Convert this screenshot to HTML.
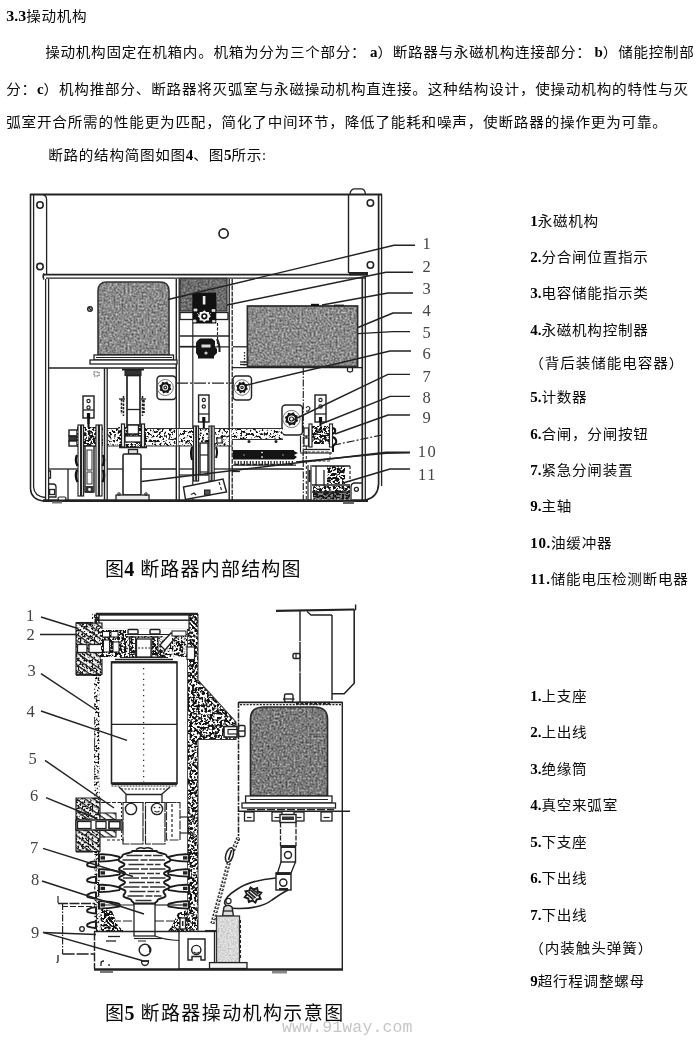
<!DOCTYPE html>
<html lang="zh-CN">
<head>
<meta charset="utf-8">
<title>3.3操动机构</title>
<style>
html,body{margin:0;padding:0;background:#fff;}
body{width:700px;height:1040px;position:relative;overflow:hidden;
 font-family:"Liberation Serif","Noto Sans CJK SC",sans-serif;color:#0a0a0a;font-weight:400;}
.t{position:absolute;white-space:nowrap;font-size:14.6px;line-height:20px;height:20px;letter-spacing:0.7px;transform:scaleY(0.94);transform-origin:0 55%;margin-left:-0.8px;}
.t b{font-weight:700;letter-spacing:0;font-size:15px;color:#000;-webkit-text-stroke:0;}
.cap{position:absolute;white-space:nowrap;font-size:19px;line-height:24px;height:24px;letter-spacing:1.2px;}
.cap b{letter-spacing:0;font-size:20px;margin-left:-1px;font-weight:700;}
.wm{position:absolute;left:282px;top:1018.5px;font-family:"Liberation Mono",monospace;font-size:16.5px;line-height:18px;color:#c6c6c6;letter-spacing:0.15px;white-space:nowrap;font-weight:400;}
svg{position:absolute;left:0;top:0;}
body{filter:grayscale(1);}
</style>
</head>
<body>
<!--TEXT-->
<div class="t" style="left:7px;top:6px;"><b style="font-size:16px">3.3</b>操动机构</div>
<div class="t" style="left:46px;top:42px;">操动机构固定在机箱内。机箱为分为三个部分：<b style="margin-left:3.5px">a</b>）断路器与永磁机构连接部分：<b style="margin-left:3px">b</b>）储能控制部</div>
<div class="t" style="left:7px;top:79px;letter-spacing:0.77px;">分：<b>c</b>）机构推部分、断路器将灭弧室与永磁操动机构直连接。这种结构设计，使操动机构的特性与灭</div>
<div class="t" style="left:7px;top:111.5px;letter-spacing:0.79px;">弧室开合所需的性能更为匹配，简化了中间环节，降低了能耗和噪声，使断路器的操作更为可靠。</div>
<div class="t" style="left:49px;top:145px;">断路的结构简图如图<b>4</b>、图<b>5</b>所示:</div>

<div class="t" style="left:531px;top:211px;"><b>1</b>永磁机构</div>
<div class="t" style="left:531px;top:247px;"><b>2.</b>分合闸位置指示</div>
<div class="t" style="left:531px;top:283px;"><b>3.</b>电容储能指示类</div>
<div class="t" style="left:531px;top:320px;"><b>4.</b>永磁机构控制器</div>
<div class="t" style="left:530px;top:353px;letter-spacing:0.9px">（背后装储能电容器）</div>
<div class="t" style="left:531px;top:387px;"><b>5.</b>计数器</div>
<div class="t" style="left:531px;top:424px;"><b>6.</b>合闸，分闸按钮</div>
<div class="t" style="left:531px;top:460px;"><b>7.</b>紧急分闸装置</div>
<div class="t" style="left:531px;top:496px;"><b>9.</b>主轴</div>
<div class="t" style="left:531px;top:533px;"><b style="letter-spacing:.7px">10.</b>油缓冲器</div>
<div class="t" style="left:531px;top:569px;"><b style="letter-spacing:.9px">11.</b>储能电压检测断电器</div>

<div class="t" style="left:531px;top:686px;"><b>1.</b>上支座</div>
<div class="t" style="left:531px;top:722px;"><b>2.</b>上出线</div>
<div class="t" style="left:531px;top:759px;"><b>3.</b>绝缘筒</div>
<div class="t" style="left:531px;top:795px;"><b>4.</b>真空来弧室</div>
<div class="t" style="left:531px;top:832px;"><b>5.</b>下支座</div>
<div class="t" style="left:531px;top:868px;"><b>6.</b>下出线</div>
<div class="t" style="left:531px;top:905px;"><b>7.</b>下出线</div>
<div class="t" style="left:530px;top:937.5px;letter-spacing:0.9px">（内装触头弹簧）</div>
<div class="t" style="left:531px;top:971px;"><b>9</b>超行程调整螺母</div>

<div class="cap" style="left:105px;top:557px;">图<b>4</b> 断路器内部结构图</div>
<div class="cap" style="left:105px;top:1001px;letter-spacing:1.4px">图<b>5</b> 断路器操动机构示意图</div>
<div class="wm">www.91way.com</div>
<!--/TEXT-->
<!--FIG1-->
<svg width="700" height="1040" viewBox="0 0 700 1040" font-family="'Liberation Serif',serif">
<defs>
<filter id="fA" x="0" y="0" width="100%" height="100%" color-interpolation-filters="sRGB"><feTurbulence type="fractalNoise" baseFrequency="0.5" numOctaves="3" seed="3"/><feColorMatrix type="matrix" values="0.75 0 0 0 0.168  0.75 0 0 0 0.168  0.75 0 0 0 0.168  0 0 0 0 1"/><feComposite operator="in" in2="SourceGraphic"/></filter>
<filter id="fB" x="0" y="0" width="100%" height="100%" color-interpolation-filters="sRGB"><feTurbulence type="fractalNoise" baseFrequency="0.5" numOctaves="3" seed="8"/><feColorMatrix type="matrix" values="0.55 0 0 0 0.150  0.55 0 0 0 0.150  0.55 0 0 0 0.150  0 0 0 0 1"/><feComposite operator="in" in2="SourceGraphic"/></filter>
<filter id="fL" x="0" y="0" width="100%" height="100%" color-interpolation-filters="sRGB"><feTurbulence type="fractalNoise" baseFrequency="0.6" numOctaves="2" seed="4"/><feColorMatrix type="matrix" values="0.35 0 0 0 0.668  0.35 0 0 0 0.668  0.35 0 0 0 0.668  0 0 0 0 1"/><feComposite operator="in" in2="SourceGraphic"/></filter>
<filter id="sp" x="0" y="0" width="100%" height="100%" color-interpolation-filters="sRGB"><feTurbulence type="fractalNoise" baseFrequency="0.42" numOctaves="2" seed="7"/><feColorMatrix type="matrix" values="9 0 0 0 -3.370  9 0 0 0 -3.370  9 0 0 0 -3.370  0 0 0 0 1"/><feComponentTransfer><feFuncR type="linear" slope="0.920" intercept="0.08"/><feFuncG type="linear" slope="0.920" intercept="0.08"/><feFuncB type="linear" slope="0.920" intercept="0.08"/></feComponentTransfer><feComposite operator="in" in2="SourceGraphic"/></filter>
<filter id="sp2" x="0" y="0" width="100%" height="100%" color-interpolation-filters="sRGB"><feTurbulence type="fractalNoise" baseFrequency="0.45" numOctaves="2" seed="11"/><feColorMatrix type="matrix" values="9 0 0 0 -4.180  9 0 0 0 -4.180  9 0 0 0 -4.180  0 0 0 0 1"/><feComponentTransfer><feFuncR type="linear" slope="0.920" intercept="0.08"/><feFuncG type="linear" slope="0.920" intercept="0.08"/><feFuncB type="linear" slope="0.920" intercept="0.08"/></feComponentTransfer><feComposite operator="in" in2="SourceGraphic"/></filter>
<filter id="sq" x="0" y="0" width="100%" height="100%" color-interpolation-filters="sRGB"><feTurbulence type="fractalNoise" baseFrequency="0.4" numOctaves="2" seed="19"/><feColorMatrix type="matrix" values="9 0 0 0 -4.045  9 0 0 0 -4.045  9 0 0 0 -4.045  0 0 0 0 1"/><feComponentTransfer><feFuncR type="linear" slope="0.920" intercept="0.08"/><feFuncG type="linear" slope="0.920" intercept="0.08"/><feFuncB type="linear" slope="0.920" intercept="0.08"/></feComponentTransfer><feComposite operator="in" in2="SourceGraphic"/></filter>
<filter id="sq2" x="0" y="0" width="100%" height="100%" color-interpolation-filters="sRGB"><feTurbulence type="fractalNoise" baseFrequency="0.45" numOctaves="2" seed="23"/><feColorMatrix type="matrix" values="9 0 0 0 -4.315  9 0 0 0 -4.315  9 0 0 0 -4.315  0 0 0 0 1"/><feComponentTransfer><feFuncR type="linear" slope="0.920" intercept="0.08"/><feFuncG type="linear" slope="0.920" intercept="0.08"/><feFuncB type="linear" slope="0.920" intercept="0.08"/></feComponentTransfer><feComposite operator="in" in2="SourceGraphic"/></filter>
</defs>
<line x1="30" y1="194.5" x2="382" y2="194.5" stroke="#222" stroke-width="1.82"/>
<path d="M30.5 194 V489 Q31 499 43 501" fill="none" stroke="#222" stroke-width="1.56"/>
<path d="M33.6 195 V487 Q34 496 45 497.5" fill="none" stroke="#222" stroke-width="1.3"/>
<path d="M43.5 195 Q46.6 195.5 46.6 200 V275" fill="none" stroke="#222" stroke-width="1.3"/>
<circle cx="40" cy="205" r="3.2" fill="none" stroke="#222" stroke-width="1.56"/>
<circle cx="40" cy="266.6" r="3.2" fill="none" stroke="#222" stroke-width="1.56"/>
<line x1="348.5" y1="194" x2="348.5" y2="273" stroke="#222" stroke-width="1.43"/>
<path d="M350 194 Q350.5 188.8 355 188.8 H361 Q365 188.8 365.4 194" fill="none" stroke="#222" stroke-width="1.3"/>
<circle cx="370.4" cy="203" r="3.2" fill="none" stroke="#222" stroke-width="1.56"/>
<circle cx="370.4" cy="265" r="3.2" fill="none" stroke="#222" stroke-width="1.56"/>
<path d="M378.6 194 V484 Q378 497 366 500" fill="none" stroke="#222" stroke-width="1.69"/>
<path d="M381.6 194 V486" fill="none" stroke="#222" stroke-width="1.3"/>
<circle cx="223.6" cy="233.5" r="4.6" fill="none" stroke="#222" stroke-width="1.69"/>
<line x1="43" y1="274.6" x2="368" y2="274.6" stroke="#222" stroke-width="1.95"/>
<line x1="46" y1="278.2" x2="349" y2="278.2" stroke="#222" stroke-width="1.3"/>
<path d="M44 273.5 Q42.3 276.5 44 279.5" fill="none" stroke="#222" stroke-width="1.56"/>
<rect x="349" y="272" width="19" height="3.5" fill="#222"/>
<line x1="349" y1="278" x2="366" y2="278" stroke="#222" stroke-width="1.3"/>
<line x1="45.6" y1="279" x2="45.6" y2="500" stroke="#222" stroke-width="1.3"/>
<line x1="48.6" y1="279" x2="48.6" y2="500" stroke="#222" stroke-width="1.3"/>
<line x1="362.3" y1="277" x2="362.3" y2="500" stroke="#222" stroke-width="1.69"/>
<line x1="365.3" y1="277" x2="365.3" y2="500" stroke="#222" stroke-width="1.3"/>
<line x1="43" y1="500.6" x2="368" y2="500.6" stroke="#222" stroke-width="2.6"/>
<rect x="343" y="501.5" width="11" height="2.5" fill="#666"/>
<rect x="52" y="501.5" width="10" height="2" fill="#777"/>
<line x1="176.3" y1="279" x2="176.3" y2="500" stroke="#222" stroke-width="1.43"/>
<line x1="179.2" y1="279" x2="179.2" y2="500" stroke="#222" stroke-width="1.3"/>
<line x1="229.2" y1="279" x2="229.2" y2="500" stroke="#222" stroke-width="1.43"/>
<line x1="232.2" y1="279" x2="232.2" y2="500" stroke="#222" stroke-width="1.3" stroke-dasharray="5 1.2"/>
<path d="M98 355 V291 Q98 282 107 282 H160 Q169 282 169 291 V355 Z" fill="#808080" filter="url(#fA)"/>
<path d="M98 355 V291 Q98 282 107 282 H160 Q169 282 169 291 V355 Z" fill="none" stroke="#333" stroke-width="1.56"/>
<rect x="94" y="355" width="79.5" height="5" fill="#fff" stroke="#222" stroke-width="1.3"/>
<rect x="90" y="360" width="87" height="4" fill="#fff" stroke="#222" stroke-width="1.3"/>
<line x1="96" y1="357.5" x2="172" y2="357.5" stroke="#222" stroke-width="1.04"/>
<line x1="48.6" y1="368" x2="176" y2="368" stroke="#222" stroke-width="1.43"/>
<circle cx="90" cy="309" r="2.3" fill="none" stroke="#222" stroke-width="1.43"/>
<line x1="88.5" y1="307.5" x2="91.5" y2="310.5" stroke="#222" stroke-width="1.17"/>
<rect x="180" y="278.5" width="47" height="32.5" fill="#808080" filter="url(#fB)"/>
<rect x="180" y="278.5" width="47" height="32.5" fill="none" stroke="#333" stroke-width="1.3"/>
<rect x="180" y="312.5" width="48" height="7" fill="#fff" stroke="#222" stroke-width="1.3"/>
<rect x="192.3" y="292.7" width="24" height="30.8" fill="#111"/>
<rect x="202.8" y="296" width="2.6" height="8.5" fill="#eee"/>
<path d="M210.9 316.3 L208.92 318.06 L208.97 320.59 L206.21 320.55 L204.3 322.37 L202.39 320.55 L199.63 320.59 L199.68 318.06 L197.7 316.3 L199.68 314.54 L199.63 312.01 L202.39 312.05 L204.3 310.23 L206.21 312.05 L208.97 312.01 L208.92 314.54 Z" fill="#f4f4f4"/>
<circle cx="204.3" cy="316.3" r="2.3" fill="#fff" stroke="#111" stroke-width="1.69"/>
<path d="M194 309 h3 v2 h-3z M212 309.5 h3 v2 h-3z M193.5 320 h2.5 v2 h-2.5z M212.5 320.5 h2.5 v1.5 h-2.5z M197 313 l2 2 M211 313 l-2 2" fill="#ddd" stroke="#ddd" stroke-width="0.78"/>
<line x1="180" y1="336" x2="229" y2="336" stroke="#222" stroke-width="1.3"/>
<line x1="180" y1="346.5" x2="196" y2="346.5" stroke="#222" stroke-width="1.3"/>
<line x1="180" y1="346.8" x2="229" y2="346.8" stroke="#222" stroke-width="1.17"/>
<line x1="192.8" y1="323" x2="192.8" y2="500" stroke="#222" stroke-width="1.17"/>
<line x1="217.5" y1="323" x2="217.5" y2="346" stroke="#222" stroke-width="1.17" stroke-dasharray="3 1.5"/>
<path d="M197 341 L200 338.5 H212 L215 341 V347 L217 349 V353 L214 356 V358.5 H198 V356 L196 353 V343 Z" fill="#151515"/>
<rect x="201.5" y="344.5" width="9" height="3" fill="#ddd"/>
<circle cx="206" cy="353" r="1.6" fill="#ccc"/>
<path d="M217 339 Q220 345 219.5 352" fill="none" stroke="#222" stroke-width="2.08"/>
<rect x="247.4" y="306" width="110.2" height="60.5" fill="#808080" filter="url(#fA)"/>
<rect x="247.4" y="306" width="110.2" height="60.5" fill="none" stroke="#2a2a2a" stroke-width="1.69"/>
<rect x="311" y="303.8" width="8" height="2.2" fill="#111"/>
<rect x="334" y="304.6" width="10" height="1.4" fill="#222"/>
<line x1="232" y1="367.6" x2="362" y2="367.6" stroke="#222" stroke-width="1.43"/>
<path d="M347.5 368 V371 Q350 373 352.5 371 V368" fill="none" stroke="#222" stroke-width="1.3"/>
<line x1="233" y1="346.8" x2="247" y2="346.8" stroke="#222" stroke-width="1.3"/>
<line x1="244.5" y1="352" x2="244.5" y2="366" stroke="#222" stroke-width="1.3" stroke-dasharray="1.5 1.5"/>
<line x1="240" y1="362" x2="247" y2="362" stroke="#222" stroke-width="1.3"/>
<line x1="240" y1="364.5" x2="247" y2="364.5" stroke="#222" stroke-width="1.3"/>
<rect x="157" y="376" width="19" height="23.5" fill="#fff" stroke="#222" stroke-width="1.43" rx="3.5"/>
<path d="M171.41 389.39 L169.15 390.69 L168.29 393.16 L165.76 392.48 L163.41 393.61 L162.11 391.35 L159.64 390.49 L160.32 387.96 L159.19 385.61 L161.45 384.31 L162.31 381.84 L164.84 382.52 L167.19 381.39 L168.49 383.65 L170.96 384.51 L170.28 387.04 Z" fill="#161616"/>
<circle cx="165.3" cy="387.5" r="2.9" fill="#fff"/>
<circle cx="165.3" cy="387.5" r="1.4" fill="none" stroke="#222" stroke-width="1.17"/>
<circle cx="165.3" cy="387.5" r="8" fill="none" stroke="#555" stroke-width="0.78"/>
<rect x="233" y="376" width="18.5" height="24" fill="#fff" stroke="#222" stroke-width="1.43" rx="3.5"/>
<path d="M247.92 389.33 L245.69 390.57 L244.89 392.98 L242.44 392.28 L240.17 393.42 L238.93 391.19 L236.52 390.39 L237.22 387.94 L236.08 385.67 L238.31 384.43 L239.11 382.02 L241.56 382.72 L243.83 381.58 L245.07 383.81 L247.48 384.61 L246.78 387.06 Z" fill="#161616"/>
<circle cx="242" cy="387.5" r="2.7" fill="#fff"/>
<circle cx="242" cy="387.5" r="1.2" fill="none" stroke="#222" stroke-width="1.17"/>
<circle cx="242" cy="387.5" r="7.8" fill="none" stroke="#555" stroke-width="0.78"/>
<rect x="282" y="405" width="20.5" height="30" fill="#fff" stroke="#222" stroke-width="1.43" rx="3.5"/>
<path d="M298.19 421.07 L295.81 422.58 L294.77 425.19 L292.02 424.58 L289.43 425.69 L287.92 423.31 L285.31 422.27 L285.92 419.52 L284.81 416.93 L287.19 415.42 L288.23 412.81 L290.98 413.42 L293.57 412.31 L295.08 414.69 L297.69 415.73 L297.08 418.48 Z" fill="#161616"/>
<circle cx="291.5" cy="419" r="3.5" fill="#fff"/>
<circle cx="291.5" cy="419" r="2" fill="none" stroke="#222" stroke-width="1.17"/>
<circle cx="291.5" cy="419" r="8.6" fill="none" stroke="#555" stroke-width="0.78"/>
<line x1="176" y1="383.2" x2="234" y2="383.2" stroke="#222" stroke-width="1.17" stroke-dasharray="12 2 2 2"/>
<line x1="303.3" y1="368" x2="303.3" y2="500" stroke="#222" stroke-width="1.17" stroke-dasharray="7 1.5 1.5 1.5"/>
<line x1="306.3" y1="436" x2="306.3" y2="500" stroke="#222" stroke-width="1.04" stroke-dasharray="3 2"/>
<rect x="107" y="428.5" width="69" height="17.5" fill="#808080" filter="url(#sp)"/>
<rect x="179" y="428.5" width="50" height="17.5" fill="#808080" filter="url(#sp)"/>
<rect x="232" y="428.5" width="51" height="10.5" fill="#808080" filter="url(#sp)"/>
<line x1="107" y1="428.5" x2="283" y2="428.5" stroke="#333" stroke-width="1.17"/>
<line x1="107" y1="446" x2="232" y2="446" stroke="#333" stroke-width="1.17"/>
<line x1="232" y1="439.5" x2="283" y2="439.5" stroke="#333" stroke-width="1.17"/>
<circle cx="249" cy="441.5" r="1.5" fill="#222"/>
<circle cx="276" cy="441.5" r="1.5" fill="#222"/>
<line x1="104.5" y1="368" x2="104.5" y2="500" stroke="#222" stroke-width="1.43"/>
<line x1="107.2" y1="368" x2="107.2" y2="500" stroke="#222" stroke-width="1.3"/>
<rect x="125" y="370" width="16" height="5.5" fill="#333" stroke="#222" stroke-width="1.04"/>
<rect x="122" y="368.5" width="22" height="2" fill="#222"/>
<rect x="127" y="375.5" width="13" height="57.5" fill="#fff" stroke="#222" stroke-width="1.69"/>
<line x1="127" y1="409.5" x2="140" y2="409.5" stroke="#222" stroke-width="1.3"/>
<line x1="127" y1="425" x2="140" y2="425" stroke="#222" stroke-width="1.3"/>
<path d="M121.5 399 V414 M123.5 396 V416 M142.5 396 V416 M144 400 V413" fill="none" stroke="#222" stroke-width="1.56" stroke-dasharray="2.5 1.2"/>
<line x1="119" y1="399" x2="125" y2="399" stroke="#222" stroke-width="1.3"/>
<line x1="141" y1="399" x2="146" y2="399" stroke="#222" stroke-width="1.3"/>
<rect x="118" y="427" width="29" height="20" fill="#808080" filter="url(#sp2)"/>
<rect x="121.5" y="424" width="3" height="23" fill="#fff" stroke="#222" stroke-width="1.3"/>
<rect x="141.5" y="424" width="3" height="23" fill="#fff" stroke="#222" stroke-width="1.3"/>
<rect x="127.5" y="425" width="11" height="9" fill="#fff" stroke="#222" stroke-width="1.43"/>
<rect x="125" y="436" width="16" height="6" fill="#fff" stroke="#222" stroke-width="1.3"/>
<line x1="119" y1="447.5" x2="147" y2="447.5" stroke="#222" stroke-width="1.56"/>
<rect x="128.5" y="449.5" width="9" height="4.5" fill="#ddd" stroke="#222" stroke-width="1.3"/>
<rect x="123" y="454" width="18" height="41" fill="#fff" stroke="#222" stroke-width="1.56" rx="1.5"/>
<rect x="116" y="495" width="33" height="5" fill="#eee" stroke="#222" stroke-width="1.3"/>
<circle cx="119" cy="494" r="1.2" fill="none" stroke="#222" stroke-width="1.04"/>
<circle cx="146" cy="494" r="1.2" fill="none" stroke="#222" stroke-width="1.04"/>
<rect x="83" y="396" width="11" height="22" fill="#fff" stroke="#222" stroke-width="1.43"/>
<circle cx="88.5" cy="401" r="1.6" fill="none" stroke="#222" stroke-width="1.17"/>
<circle cx="88.5" cy="407.5" r="1.6" fill="none" stroke="#222" stroke-width="1.17"/>
<line x1="83" y1="410" x2="94" y2="410" stroke="#222" stroke-width="1.3"/>
<rect x="86.9" y="413" width="3.2" height="5" fill="#111"/>
<line x1="88.5" y1="418" x2="88.5" y2="424" stroke="#111" stroke-width="2.08"/>
<line x1="88.5" y1="418" x2="88.5" y2="428" stroke="#111" stroke-width="2.08"/>
<rect x="69" y="430" width="8" height="6" fill="#fff" stroke="#222" stroke-width="1.43"/>
<rect x="69" y="436" width="8" height="5" fill="#333" stroke="#222" stroke-width="1.3"/>
<rect x="69" y="441" width="8" height="5" fill="#fff" stroke="#222" stroke-width="1.43"/>
<rect x="77" y="427" width="26" height="20" fill="#808080" filter="url(#sp2)"/>
<rect x="78" y="425" width="2.6" height="71" fill="#fff" stroke="#222" stroke-width="1.17"/>
<rect x="81.6" y="425" width="2" height="71" fill="#fff" stroke="#222" stroke-width="1.17"/>
<rect x="96" y="425" width="2.4" height="71" fill="#fff" stroke="#222" stroke-width="1.17"/>
<rect x="99.4" y="425" width="2.6" height="71" fill="#fff" stroke="#222" stroke-width="1.17"/>
<rect x="85" y="446" width="9" height="46" fill="#fff" stroke="#222" stroke-width="1.43"/>
<rect x="87" y="450" width="5" height="20" fill="#fff" stroke="#333" stroke-width="1.04"/>
<rect x="87" y="472" width="5" height="12" fill="#fff" stroke="#333" stroke-width="1.04"/>
<rect x="85.5" y="486" width="8" height="7" fill="#333"/>
<circle cx="89.5" cy="489.5" r="1.4" fill="#fff"/>
<path d="M77 455 Q74.5 460 77.5 466 M77 470 Q74.5 476 77.5 482 M103 455 Q105.5 460 102.5 466 M103 470 Q105.5 476 102.5 482" fill="none" stroke="#111" stroke-width="2.34"/>
<line x1="48.6" y1="469" x2="78" y2="469" stroke="#222" stroke-width="1.3"/>
<line x1="107" y1="469" x2="123" y2="469" stroke="#222" stroke-width="1.3"/>
<line x1="141" y1="469" x2="176" y2="469" stroke="#222" stroke-width="1.3"/>
<line x1="68" y1="469" x2="68" y2="500" stroke="#222" stroke-width="1.3"/>
<path d="M48.6 471 H50.5 V478 H49 M48.6 484 H53 Q56 484 56 487 V497 H48.6" fill="none" stroke="#222" stroke-width="1.3"/>
<rect x="49.6" y="489.5" width="5" height="5" fill="#fff" stroke="#222" stroke-width="1.3"/>
<rect x="58" y="497" width="8" height="3" fill="#fff" stroke="#222" stroke-width="1.17" rx="1.4"/>
<rect x="94" y="372" width="5" height="4" fill="none" stroke="#444" stroke-width="1.04" stroke-dasharray="1.5 1"/>
<rect x="198.6" y="395" width="10.4" height="27" fill="#fff" stroke="#222" stroke-width="1.43"/>
<circle cx="203.8" cy="400" r="1.6" fill="none" stroke="#222" stroke-width="1.17"/>
<circle cx="203.8" cy="406.5" r="1.6" fill="none" stroke="#222" stroke-width="1.17"/>
<line x1="198.6" y1="414" x2="209" y2="414" stroke="#222" stroke-width="1.3"/>
<rect x="202.2" y="417" width="3.2" height="5" fill="#111"/>
<line x1="203.8" y1="422" x2="203.8" y2="428" stroke="#111" stroke-width="2.08"/>
<rect x="193.6" y="426" width="2.2" height="55" fill="#fff" stroke="#222" stroke-width="1.17"/>
<rect x="196.6" y="426" width="2" height="55" fill="#fff" stroke="#222" stroke-width="1.17"/>
<rect x="209" y="426" width="2.2" height="55" fill="#fff" stroke="#222" stroke-width="1.17"/>
<rect x="212" y="426" width="2.2" height="55" fill="#fff" stroke="#222" stroke-width="1.17"/>
<rect x="200" y="443" width="8" height="32" fill="#fff" stroke="#222" stroke-width="1.43"/>
<line x1="200" y1="455" x2="208" y2="455" stroke="#222" stroke-width="1.17"/>
<line x1="200" y1="472" x2="208" y2="472" stroke="#222" stroke-width="1.17"/>
<path d="M192 447 Q190 453 192 460 M216 447 Q218 452 216 458" fill="none" stroke="#111" stroke-width="2.08"/>
<line x1="179" y1="469" x2="193.6" y2="469" stroke="#222" stroke-width="1.3"/>
<line x1="214.2" y1="469" x2="233" y2="469" stroke="#222" stroke-width="1.3"/>
<line x1="179" y1="475" x2="196" y2="475" stroke="#222" stroke-width="1.17"/>
<path d="M183.5 487 L223 479 L226.5 492 L185.5 499.5 Z" fill="#fff" stroke="#222" stroke-width="1.43"/>
<rect x="204.5" y="490" width="5.5" height="5" fill="#555" stroke="#222" stroke-width="1.04"/>
<path d="M191 494.5 l3 -1.5 l2 2 M219 482 l1 3 M220.5 487 l1 3" fill="none" stroke="#222" stroke-width="1.17"/>
<rect x="217" y="438" width="5" height="5" fill="#fff" stroke="#222" stroke-width="1.17"/>
<rect x="233" y="450" width="61" height="9.5" fill="#141414"/>
<path d="M294 451 l4 2 l-4 2 l3 2 l-3 2.5 Z" fill="#141414"/>
<circle cx="262" cy="452.5" r="0.8" fill="#ddd"/>
<circle cx="262" cy="457" r="0.8" fill="#ddd"/>
<circle cx="262" cy="452.5" r="0.8" fill="#ddd"/>
<circle cx="262" cy="457" r="0.8" fill="#ddd"/>
<circle cx="244" cy="455" r="0.7" fill="#bbb"/>
<circle cx="283" cy="455" r="0.7" fill="#bbb"/>
<path d="M235 461 v3.5 h3.4 v-3.5 M241 461 v3.5 h3.4 v-3.5 M247 461 v3.5 h3.4 v-3.5 M253 461 v3.5 h3.4 v-3.5 M259 461 v3.5 h3.4 v-3.5 M265 461 v3.5 h3.4 v-3.5 M271 461 v3.5 h3.4 v-3.5 M277 461 v3.5 h3.4 v-3.5 M283 461 v3.5 h3.4 v-3.5 M289 461 v3.5 h3.4 v-3.5 " fill="none" stroke="#222" stroke-width="1.3"/>
<line x1="233" y1="465.2" x2="296" y2="465.2" stroke="#222" stroke-width="1.17"/>
<line x1="232" y1="469" x2="303.3" y2="469" stroke="#222" stroke-width="1.43"/>
<line x1="232" y1="471.5" x2="240" y2="471.5" stroke="#222" stroke-width="1.3"/>
<rect x="233" y="469" width="70" height="30.5" fill="none"/>
<rect x="315" y="395" width="11" height="27" fill="#fff" stroke="#222" stroke-width="1.43"/>
<circle cx="320.5" cy="400" r="1.6" fill="none" stroke="#222" stroke-width="1.17"/>
<circle cx="320.5" cy="406.5" r="1.6" fill="none" stroke="#222" stroke-width="1.17"/>
<line x1="315" y1="414" x2="326" y2="414" stroke="#222" stroke-width="1.3"/>
<rect x="318.9" y="417" width="3.2" height="5" fill="#111"/>
<line x1="320.5" y1="422" x2="320.5" y2="428" stroke="#111" stroke-width="2.08"/>
<path d="M306 408 q2 -3 4 0 q-1 4 -4 3" fill="none" stroke="#222" stroke-width="1.17"/>
<rect x="311" y="426" width="20" height="18" fill="#808080" filter="url(#sp2)"/>
<rect x="309" y="424" width="3" height="23" fill="#fff" stroke="#222" stroke-width="1.17"/>
<rect x="329.5" y="424" width="3" height="23" fill="#fff" stroke="#222" stroke-width="1.17"/>
<rect x="304" y="428" width="4.5" height="8" fill="#fff" stroke="#222" stroke-width="1.17"/>
<rect x="304" y="438" width="4.5" height="8" fill="#fff" stroke="#222" stroke-width="1.17"/>
<path d="M333 428 q3 1 2 4 q-1 2 -2.5 1 M333 437 q4 2 3 6 l-3 3 v6" fill="none" stroke="#111" stroke-width="2.08"/>
<line x1="304" y1="449.5" x2="330" y2="449.5" stroke="#222" stroke-width="1.3"/>
<line x1="300" y1="453" x2="332" y2="453" stroke="#222" stroke-width="1.17"/>
<line x1="300.5" y1="436" x2="300.5" y2="452" stroke="#222" stroke-width="1.17"/>
<rect x="303" y="452" width="27" height="9" fill="none" stroke="#333" stroke-width="1.04" stroke-dasharray="3 1.5"/>
<line x1="308" y1="465" x2="308" y2="500" stroke="#222" stroke-width="1.17"/>
<line x1="311" y1="465" x2="311" y2="500" stroke="#222" stroke-width="1.17"/>
<rect x="312" y="465" width="38" height="34.5" fill="#fff"/>
<rect x="327" y="466" width="18" height="18" fill="#808080" filter="url(#sp2)"/>
<rect x="313" y="486" width="37" height="13.5" fill="#808080" filter="url(#sp2)"/>
<rect x="313" y="492" width="37" height="7.5" fill="#1a1a1a" opacity="0.55"/>
<line x1="312" y1="466" x2="350" y2="466" stroke="#222" stroke-width="1.3"/>
<line x1="312" y1="485" x2="350" y2="485" stroke="#222" stroke-width="1.43"/>
<line x1="312" y1="492" x2="350" y2="492" stroke="#222" stroke-width="1.56"/>
<line x1="316" y1="466" x2="316" y2="486" stroke="#222" stroke-width="1.3"/>
<line x1="324" y1="470" x2="324" y2="486" stroke="#222" stroke-width="1.3"/>
<line x1="350" y1="466" x2="350" y2="482" stroke="#222" stroke-width="1.17" stroke-dasharray="3 2"/>
<rect x="308.5" y="470" width="2" height="12" fill="#222"/>
<path d="M351 499.5 V487 Q351 483 355 483 H362" fill="#fff" stroke="#222" stroke-width="1.3"/>
<circle cx="356.4" cy="489.3" r="2" fill="none" stroke="#222" stroke-width="1.3"/>
<path d="M415 245.3 L394 245.3 L168 299.5" fill="none" stroke="#222" stroke-width="1.43" stroke-linejoin="round"/>
<path d="M413 272.3 L386 272.3 L227 305" fill="none" stroke="#222" stroke-width="1.43" stroke-linejoin="round"/>
<path d="M413 293 L388 293 L322 305" fill="none" stroke="#222" stroke-width="1.43" stroke-linejoin="round"/>
<path d="M412 313 L393 313 L358 327.5" fill="none" stroke="#222" stroke-width="1.43" stroke-linejoin="round"/>
<path d="M410 331.6 L393 331.6 L358 333.6" fill="none" stroke="#222" stroke-width="1.43" stroke-linejoin="round"/>
<path d="M411 351 L390 351 L245 385.5" fill="none" stroke="#222" stroke-width="1.43" stroke-linejoin="round"/>
<path d="M410 374.4 L388 374.4 L293 420" fill="none" stroke="#222" stroke-width="1.43" stroke-linejoin="round"/>
<path d="M410 396.4 L390 396.4 L321 424" fill="none" stroke="#222" stroke-width="1.43" stroke-linejoin="round"/>
<path d="M410 415 L388 415 L335 434" fill="none" stroke="#222" stroke-width="1.43" stroke-linejoin="round"/>
<path d="M410 452.2 L386 452.2 L141.5 481.5" fill="none" stroke="#222" stroke-width="1.43" stroke-linejoin="round"/>
<path d="M410 452.8 L386 453.2 L296 462" fill="none" stroke="#222" stroke-width="1.43" stroke-linejoin="round"/>
<path d="M410 469 L390 469 L343 483" fill="none" stroke="#222" stroke-width="1.43" stroke-linejoin="round"/>
<line x1="382" y1="435" x2="334" y2="445" stroke="#222" stroke-width="1.17" stroke-dasharray="8 2 2 2"/>
<text x="426.5" y="249" font-size="16.5" fill="#444" text-anchor="middle">1</text>
<text x="426.5" y="271.5" font-size="16.5" fill="#444" text-anchor="middle">2</text>
<text x="426.5" y="294" font-size="16.5" fill="#444" text-anchor="middle">3</text>
<text x="426.5" y="316.3" font-size="16.5" fill="#444" text-anchor="middle">4</text>
<text x="426.5" y="337.5" font-size="16.5" fill="#444" text-anchor="middle">5</text>
<text x="426.5" y="359.3" font-size="16.5" fill="#444" text-anchor="middle">6</text>
<text x="426.5" y="381.5" font-size="16.5" fill="#444" text-anchor="middle">7</text>
<text x="426.5" y="403" font-size="16.5" fill="#444" text-anchor="middle">8</text>
<text x="426.5" y="423" font-size="16.5" fill="#444" text-anchor="middle">9</text>
<text x="427.5" y="457.3" font-size="16.5" fill="#444" text-anchor="middle" letter-spacing="1.5">10</text>
<text x="427.5" y="480" font-size="16.5" fill="#444" text-anchor="middle" letter-spacing="1.5">11</text>
</svg>
<!--/FIG1-->
<!--FIG2-->
<svg width="700" height="1040" viewBox="0 0 700 1040" font-family="'Liberation Serif',serif">
<defs>
<filter id="fM" x="0" y="0" width="100%" height="100%" color-interpolation-filters="sRGB"><feTurbulence type="fractalNoise" baseFrequency="0.5" numOctaves="3" seed="13"/><feColorMatrix type="matrix" values="0.8 0 0 0 0.083  0.8 0 0 0 0.083  0.8 0 0 0 0.083  0 0 0 0 1"/><feComposite operator="in" in2="SourceGraphic"/></filter>
<filter id="sw" x="0" y="0" width="100%" height="100%" color-interpolation-filters="sRGB"><feTurbulence type="fractalNoise" baseFrequency="0.5" numOctaves="2" seed="31"/><feColorMatrix type="matrix" values="9 0 0 0 -3.694  9 0 0 0 -3.694  9 0 0 0 -3.694  0 0 0 0 1"/><feComponentTransfer><feFuncR type="linear" slope="0.920" intercept="0.08"/><feFuncG type="linear" slope="0.920" intercept="0.08"/><feFuncB type="linear" slope="0.920" intercept="0.08"/></feComponentTransfer><feComposite operator="in" in2="SourceGraphic"/></filter>
<pattern id="hat" width="5" height="5" patternUnits="userSpaceOnUse" patternTransform="rotate(35)"><rect width="5" height="1.3" fill="#1c1c1c"/></pattern>
</defs>
<rect x="92" y="613.5" width="9" height="62.5" fill="#808080" filter="url(#sq)"/>
<rect x="94.2" y="676" width="5.4" height="256" fill="#808080" filter="url(#sw)"/>
<path d="M187.5 614 H198 V680 L236 722 V739.5 H198 V931 H187.5 Z" fill="#808080" filter="url(#sq)"/>
<path d="M198 614 V680 L236 722 V739.5 H198 V931" fill="none" stroke="#333" stroke-width="1.04"/>
<line x1="187.5" y1="614" x2="187.5" y2="931" stroke="#444" stroke-width="0.91"/>
<rect x="224" y="726.5" width="13" height="10.5" fill="#fff" stroke="#222" stroke-width="1.56"/>
<rect x="228" y="729.5" width="9" height="4.5" fill="#fff" stroke="#222" stroke-width="1.17"/>
<rect x="238.5" y="725.5" width="6.5" height="11" fill="#fff" stroke="#222" stroke-width="1.43" rx="1.5"/>
<line x1="238.5" y1="731" x2="245" y2="731" stroke="#222" stroke-width="1.43"/>
<line x1="96" y1="613.8" x2="198" y2="613.8" stroke="#222" stroke-width="2.34"/>
<rect x="99" y="615" width="90" height="5.3" fill="#fff" stroke="#222" stroke-width="1.3"/>
<rect x="99" y="620.3" width="90" height="9.2" fill="#fff" stroke="#222" stroke-width="1.17"/>
<line x1="96.5" y1="613" x2="96.5" y2="621" stroke="#222" stroke-width="1.56"/>
<rect x="76" y="623" width="26" height="51.5" fill="#808080" filter="url(#sw)"/>
<rect x="76" y="623" width="26" height="51.5" fill="url(#hat)" stroke="#222" stroke-width="1.17"/>
<rect x="77.5" y="644.5" width="9.5" height="8" fill="#fff" stroke="#222" stroke-width="1.3"/>
<rect x="89" y="644.5" width="13" height="8" fill="#fff" stroke="#222" stroke-width="1.3"/>
<line x1="76" y1="674.8" x2="93" y2="674.8" stroke="#222" stroke-width="2.08"/>
<line x1="76" y1="622.8" x2="93" y2="622.8" stroke="#222" stroke-width="1.69"/>
<rect x="101" y="629" width="86" height="30" fill="#fff"/>
<rect x="101" y="636" width="86" height="21" fill="#808080" filter="url(#sw)"/>
<rect x="138" y="638" width="12" height="19" fill="#fff"/>
<rect x="101" y="630" width="25" height="27" fill="#808080" filter="url(#sq2)"/>
<rect x="102.5" y="631.5" width="7" height="5.5" fill="#fff" stroke="#222" stroke-width="1.04"/>
<rect x="111" y="631.5" width="7" height="5.5" fill="#fff" stroke="#222" stroke-width="1.04"/>
<rect x="103.5" y="640" width="6" height="12" fill="#fff" stroke="#222" stroke-width="1.04"/>
<rect x="113" y="642" width="6" height="10" fill="#fff" stroke="#222" stroke-width="1.04"/>
<rect x="128" y="629.5" width="10" height="4.5" fill="#fff" stroke="#222" stroke-width="1.43" rx="1"/>
<rect x="150" y="629.5" width="10" height="4.5" fill="#fff" stroke="#222" stroke-width="1.43" rx="1"/>
<rect x="129.5" y="637" width="6" height="20" fill="#808080" filter="url(#sq2)"/>
<rect x="129.5" y="637" width="6" height="20" fill="none" stroke="#222" stroke-width="0.91"/>
<rect x="152" y="637" width="6" height="20" fill="#808080" filter="url(#sq2)"/>
<rect x="152" y="637" width="6" height="20" fill="none" stroke="#222" stroke-width="0.91"/>
<rect x="136.5" y="639" width="14.5" height="18" fill="#fff" stroke="#222" stroke-width="1.3"/>
<line x1="138" y1="648" x2="150" y2="648" stroke="#222" stroke-width="1.04" stroke-dasharray="2 1.5"/>
<line x1="126" y1="634.5" x2="187" y2="634.5" stroke="#222" stroke-width="1.17"/>
<line x1="126" y1="637" x2="162" y2="637" stroke="#222" stroke-width="1.17"/>
<path d="M160 645 L171 633 L176 637 L165 650 Z" fill="#fff" stroke="#222" stroke-width="1.3"/>
<path d="M160 650 L166 654 L162 658 L157 655 Z" fill="#808080" filter="url(#sq2)"/>
<path d="M160 650 L166 654 L162 658 L157 655 Z" fill="none" stroke="#222" stroke-width="0.91"/>
<rect x="172" y="631" width="14" height="5" fill="#fff" stroke="#222" stroke-width="1.04"/>
<rect x="176" y="640" width="5" height="16" fill="#808080" filter="url(#sq2)"/>
<line x1="181.5" y1="636" x2="181.5" y2="658" stroke="#222" stroke-width="1.17" stroke-dasharray="3 1.5"/>
<rect x="187" y="647" width="7.5" height="12.5" fill="#fff" stroke="#222" stroke-width="1.17"/>
<line x1="172.5" y1="638" x2="172.5" y2="650" stroke="#222" stroke-width="1.04" stroke-dasharray="2 2"/>
<line x1="115" y1="659.5" x2="173" y2="659.5" stroke="#222" stroke-width="1.56"/>
<line x1="120" y1="657.5" x2="168" y2="657.5" stroke="#222" stroke-width="1.04"/>
<rect x="111.5" y="662" width="65.5" height="121.5" fill="#fff" stroke="#222" stroke-width="1.56"/>
<line x1="111.5" y1="662.3" x2="177" y2="662.3" stroke="#222" stroke-width="2.34"/>
<line x1="111.5" y1="783.6" x2="177" y2="783.6" stroke="#222" stroke-width="2.6"/>
<line x1="111.5" y1="786" x2="177" y2="786" stroke="#222" stroke-width="1.04" stroke-dasharray="2 1"/>
<line x1="111.5" y1="724.4" x2="177" y2="724.4" stroke="#222" stroke-width="1.17"/>
<line x1="143.6" y1="668" x2="143.6" y2="782" stroke="#222" stroke-width="1.3" stroke-dasharray="1.2 4.2"/>
<path d="M119 787 L126 794 V802 M170 787 L162 794 V802" fill="none" stroke="#222" stroke-width="1.3"/>
<line x1="126" y1="794.5" x2="162" y2="794.5" stroke="#222" stroke-width="1.3"/>
<line x1="121" y1="789" x2="167" y2="789" stroke="#222" stroke-width="1.04" stroke-dasharray="2 1.5"/>
<line x1="101" y1="802.5" x2="180" y2="802.5" stroke="#222" stroke-width="1.17" stroke-dasharray="4 1.5"/>
<circle cx="131" cy="809" r="5.6" fill="#fff" stroke="#222" stroke-width="1.43"/>
<circle cx="157" cy="809" r="5.6" fill="#fff" stroke="#222" stroke-width="1.43"/>
<path d="M154.5 807.5 h0.1 M159.5 807.5 h0.1" fill="none" stroke="#222" stroke-width="1.69" stroke-linecap="round"/>
<path d="M154.5 811 q2.5 2 5 0" fill="none" stroke="#222" stroke-width="1.04"/>
<rect x="123" y="802.5" width="20" height="41.5" fill="none" stroke="#222" stroke-width="1.17" stroke-dasharray="14 1"/>
<rect x="145.5" y="802.5" width="19.5" height="41.5" fill="none" stroke="#222" stroke-width="1.17" stroke-dasharray="14 1"/>
<rect x="166.5" y="802.5" width="13.5" height="37.5" fill="none" stroke="#333" stroke-width="1.17" stroke-dasharray="9 1.5"/>
<line x1="172" y1="804" x2="172" y2="838" stroke="#222" stroke-width="1.17" stroke-dasharray="3 2"/>
<line x1="180" y1="817" x2="194" y2="817" stroke="#222" stroke-width="1.17"/>
<line x1="180" y1="833" x2="194" y2="833" stroke="#222" stroke-width="1.17"/>
<line x1="188" y1="817" x2="188" y2="833" stroke="#222" stroke-width="1.04"/>
<line x1="107" y1="840" x2="124" y2="840" stroke="#222" stroke-width="1.04" stroke-dasharray="3 2"/>
<line x1="121.5" y1="803" x2="121.5" y2="840" stroke="#222" stroke-width="1.04" stroke-dasharray="2 2"/>
<path d="M76 798 H100 V851.5 H76 Z" fill="#808080" filter="url(#sw)"/>
<path d="M76 798 H100 V851.5 H76 Z" fill="url(#hat)" stroke="#222" stroke-width="1.17"/>
<rect x="100" y="813" width="16" height="6.5" fill="#fff"/>
<rect x="100" y="813" width="16" height="6.5" fill="url(#hat)" stroke="#222" stroke-width="1.04"/>
<rect x="100" y="830.5" width="16" height="6.5" fill="#fff"/>
<rect x="100" y="830.5" width="16" height="6.5" fill="url(#hat)" stroke="#222" stroke-width="1.04"/>
<rect x="76" y="820" width="46" height="10" fill="#fff" stroke="#222" stroke-width="1.43"/>
<rect x="77.5" y="821.5" width="13.5" height="7" fill="#fff" stroke="#222" stroke-width="1.3"/>
<rect x="96" y="821.5" width="10" height="7" fill="#fff" stroke="#222" stroke-width="1.3"/>
<rect x="109" y="821.5" width="11" height="7" fill="#fff" stroke="#222" stroke-width="1.69"/>
<line x1="76" y1="851.5" x2="93" y2="851.5" stroke="#222" stroke-width="2.08"/>
<!--F2B-->
<path d="M96 861.5 Q92 860.9 88 863.3 Q86.2 864.8 88 866.1 Q92 867.5 96 867.5 Z" fill="#fff" stroke="#1a1a1a" stroke-width="1.95"/>
<path d="M96 877 Q92 876.4 88 878.8 Q86.2 880.3 88 881.6 Q92 883 96 883 Z" fill="#fff" stroke="#1a1a1a" stroke-width="1.95"/>
<path d="M96 892.5 Q92 891.9 88 894.3 Q86.2 895.8 88 897.1 Q92 898.5 96 898.5 Z" fill="#fff" stroke="#1a1a1a" stroke-width="1.95"/>
<path d="M96 907.5 Q92 906.9 88 909.3 Q86.2 910.8 88 912.1 Q92 913.5 96 913.5 Z" fill="#fff" stroke="#1a1a1a" stroke-width="1.95"/>
<path d="M96 922 Q92 921.4 88 923.8 Q86.2 925.3 88 926.6 Q92 928 96 928 Z" fill="#fff" stroke="#1a1a1a" stroke-width="1.95"/>
<path d="M99 854.4 Q109 853.8 119 856.8 Q120.8 858.3 119 859.6 Q109 861.6 99 861.6 Z" fill="#fff" stroke="#1a1a1a" stroke-width="1.95"/>
<path d="M100.5 856.2 h4.5 v3.4 h-4.5 Z" fill="#222"/>
<path d="M189 854.4 Q179 853.8 169 856.8 Q167.2 858.3 169 859.6 Q179 861.6 189 861.6 Z" fill="#fff" stroke="#1a1a1a" stroke-width="1.95"/>
<path d="M187.5 856.2 h-4.5 v3.4 h4.5 Z" fill="#222"/>
<path d="M99 869.4 Q109 868.8 119 871.8 Q120.8 873.3 119 874.6 Q109 876.6 99 876.6 Z" fill="#fff" stroke="#1a1a1a" stroke-width="1.95"/>
<path d="M100.5 871.2 h4.5 v3.4 h-4.5 Z" fill="#222"/>
<path d="M189 869.4 Q179 868.8 169 871.8 Q167.2 873.3 169 874.6 Q179 876.6 189 876.6 Z" fill="#fff" stroke="#1a1a1a" stroke-width="1.95"/>
<path d="M187.5 871.2 h-4.5 v3.4 h4.5 Z" fill="#222"/>
<path d="M99 884.9 Q109 884.3 119 887.3 Q120.8 888.8 119 890.1 Q109 892.1 99 892.1 Z" fill="#fff" stroke="#1a1a1a" stroke-width="1.95"/>
<path d="M100.5 886.7 h4.5 v3.4 h-4.5 Z" fill="#222"/>
<path d="M189 884.9 Q179 884.3 169 887.3 Q167.2 888.8 169 890.1 Q179 892.1 189 892.1 Z" fill="#fff" stroke="#1a1a1a" stroke-width="1.95"/>
<path d="M187.5 886.7 h-4.5 v3.4 h4.5 Z" fill="#222"/>
<path d="M99 901.4 Q109 900.8 119 903.8 Q120.8 905.3 119 906.6 Q109 908.6 99 908.6 Z" fill="#fff" stroke="#1a1a1a" stroke-width="1.95"/>
<path d="M100.5 903.2 h4.5 v3.4 h-4.5 Z" fill="#222"/>
<path d="M189 901.4 Q179 900.8 169 903.8 Q167.2 905.3 169 906.6 Q179 908.6 189 908.6 Z" fill="#fff" stroke="#1a1a1a" stroke-width="1.95"/>
<path d="M187.5 903.2 h-4.5 v3.4 h4.5 Z" fill="#222"/>
<path d="M156.5 851 C156.5 853.25 166.5 853.25 166.5 855.5 C166.5 857.75 170.5 857.75 170.5 860 C170.5 862.25 164.5 862.25 164.5 864.5 C164.5 866.75 170 866.75 170 869 C170 871.25 164 871.25 164 873.5 C164 875.75 170 875.75 170 878 C170 880.25 164 880.25 164 882.5 C164 884.75 169.5 884.75 169.5 887 C169.5 889.25 163.5 889.25 163.5 891.5 C163.5 893.75 165.5 893.75 165.5 896 C165.5 898.25 157.5 898.25 157.5 900.5 C157.5 902 155 902 155 903.5 L134 903.5 C134 902 131.5 902 131.5 900.5 C131.5 898.25 123.5 898.25 123.5 896 C123.5 893.75 125.5 893.75 125.5 891.5 C125.5 889.25 119.5 889.25 119.5 887 C119.5 884.75 125 884.75 125 882.5 C125 880.25 119 880.25 119 878 C119 875.75 125 875.75 125 873.5 C125 871.25 119 871.25 119 869 C119 866.75 124.5 866.75 124.5 864.5 C124.5 862.25 118.5 862.25 118.5 860 C118.5 857.75 122.5 857.75 122.5 855.5 C122.5 853.25 132.5 853.25 132.5 851 Z" fill="#fff" stroke="#1a1a1a" stroke-width="1.95"/>
<line x1="126.5" y1="855.5" x2="162.5" y2="855.5" stroke="#333" stroke-width="1.49" stroke-dasharray="16 2 7 1.5"/>
<line x1="122.5" y1="860" x2="166.5" y2="860" stroke="#333" stroke-width="1.49" stroke-dasharray="16 2 7 1.5"/>
<line x1="128.5" y1="864.5" x2="160.5" y2="864.5" stroke="#333" stroke-width="1.49" stroke-dasharray="16 2 7 1.5"/>
<line x1="123" y1="869" x2="166" y2="869" stroke="#333" stroke-width="1.49" stroke-dasharray="16 2 7 1.5"/>
<line x1="129" y1="873.5" x2="160" y2="873.5" stroke="#333" stroke-width="1.49" stroke-dasharray="16 2 7 1.5"/>
<line x1="123" y1="878" x2="166" y2="878" stroke="#333" stroke-width="1.49" stroke-dasharray="16 2 7 1.5"/>
<line x1="129" y1="882.5" x2="160" y2="882.5" stroke="#333" stroke-width="1.49" stroke-dasharray="16 2 7 1.5"/>
<line x1="123.5" y1="887" x2="165.5" y2="887" stroke="#333" stroke-width="1.49" stroke-dasharray="16 2 7 1.5"/>
<line x1="129.5" y1="891.5" x2="159.5" y2="891.5" stroke="#333" stroke-width="1.49" stroke-dasharray="16 2 7 1.5"/>
<line x1="127.5" y1="896" x2="161.5" y2="896" stroke="#333" stroke-width="1.49" stroke-dasharray="16 2 7 1.5"/>
<line x1="135.5" y1="900.5" x2="153.5" y2="900.5" stroke="#333" stroke-width="1.49" stroke-dasharray="16 2 7 1.5"/>
<path d="M136 849.5 q4 -3 8 -1 q5 -2 9 1" fill="none" stroke="#222" stroke-width="1.56"/>
<rect x="134" y="904" width="21" height="32" fill="#fff" stroke="#222" stroke-width="1.3"/>
<line x1="101" y1="905" x2="134" y2="905" stroke="#222" stroke-width="1.17"/>
<line x1="155" y1="905" x2="187" y2="905" stroke="#222" stroke-width="1.17"/>
<line x1="101" y1="921" x2="134" y2="921" stroke="#222" stroke-width="1.17" stroke-dasharray="9 2"/>
<line x1="155" y1="921" x2="187" y2="921" stroke="#222" stroke-width="1.17" stroke-dasharray="9 2"/>
<path d="M100.5 908 L112 911 L118 926 L124 931 H100.5 Z" fill="#808080" filter="url(#sq2)"/>
<path d="M187.5 910 L178 913 L172 926 L168 931 H187.5 Z" fill="#808080" filter="url(#sq2)"/>
<rect x="180" y="918" width="5.5" height="11" fill="#fff" stroke="#222" stroke-width="1.3"/>
<line x1="182.7" y1="921" x2="182.7" y2="926" stroke="#222" stroke-width="1.56"/>
<line x1="94" y1="931.5" x2="215" y2="931.5" stroke="#222" stroke-width="1.43"/>
<path d="M94.5 931.5 V969" fill="none" stroke="#222" stroke-width="1.43" stroke-dasharray="9 1.5"/>
<rect x="179" y="931.5" width="35.5" height="37.5" fill="#fff" stroke="#222" stroke-width="1.3"/>
<path d="M188 960 V939 H205 V960 H201 V956.5 H192 V960 Z" fill="#fff" stroke="#222" stroke-width="1.43"/>
<circle cx="196.3" cy="950" r="4.6" fill="#fff" stroke="#222" stroke-width="1.43"/>
<path d="M193.5 952 q3 2.5 6 0" fill="none" stroke="#222" stroke-width="1.17"/>
<circle cx="145" cy="950" r="5.8" fill="#fff" stroke="#222" stroke-width="1.43"/>
<path d="M148 946 a5 5 0 0 1 1.6 6" fill="none" stroke="#222" stroke-width="1.82"/>
<path d="M141.5 961 q0 4.5 3.5 4.5 q3.5 0 3.5 -4.5 Z" fill="#fff" stroke="#222" stroke-width="1.3"/>
<line x1="141" y1="961" x2="149" y2="961" stroke="#222" stroke-width="1.43"/>
<line x1="108" y1="936.5" x2="120" y2="936.5" stroke="#222" stroke-width="1.3"/>
<line x1="106" y1="941" x2="116" y2="941" stroke="#222" stroke-width="1.3"/>
<line x1="134" y1="938.5" x2="162" y2="938.5" stroke="#222" stroke-width="1.17"/>
<line x1="138" y1="941" x2="146" y2="941" stroke="#222" stroke-width="1.04"/>
<path d="M101 966 v-3 q0 -2 3 -2 M109 964 v2" fill="none" stroke="#222" stroke-width="1.3"/>
<path d="M155 936 Q165 940 179 940.5" fill="none" stroke="#222" stroke-width="1.17"/>
<line x1="94" y1="969.5" x2="343" y2="969.5" stroke="#222" stroke-width="2.6"/>
<rect x="100" y="971" width="13" height="2" fill="#777"/>
<rect x="272" y="971" width="15" height="2.5" fill="#888"/>
<path d="M58 896 V903 M62.6 903 V954" fill="none" stroke="#222" stroke-width="1.17" stroke-dasharray="7 1.5 1.5 1.5"/>
<line x1="58" y1="903.5" x2="95" y2="903.5" stroke="#222" stroke-width="1.3" stroke-dasharray="10 1.5"/>
<line x1="62" y1="906.5" x2="95" y2="906.5" stroke="#222" stroke-width="1.04" stroke-dasharray="6 2"/>
<line x1="62.6" y1="954" x2="94" y2="954" stroke="#222" stroke-width="1.3" stroke-dasharray="12 2"/>
<path d="M58 955 v6 q0 1.5 -1.5 1.5" fill="none" stroke="#222" stroke-width="1.3"/>
<circle cx="82" cy="929" r="2.3" fill="none" stroke="#222" stroke-width="1.3"/>
<line x1="41" y1="617" x2="78" y2="628.5" stroke="#222" stroke-width="1.49"/>
<line x1="40" y1="634.4" x2="76" y2="634.4" stroke="#222" stroke-width="1.49"/>
<line x1="41" y1="673.6" x2="96" y2="710" stroke="#222" stroke-width="1.49"/>
<line x1="41" y1="711" x2="127" y2="740.4" stroke="#222" stroke-width="1.49"/>
<line x1="45" y1="760.4" x2="114" y2="808" stroke="#222" stroke-width="1.49"/>
<line x1="46" y1="797.6" x2="97" y2="818.5" stroke="#222" stroke-width="1.49"/>
<line x1="43" y1="848.4" x2="133" y2="876.5" stroke="#222" stroke-width="1.49"/>
<line x1="42" y1="881" x2="144" y2="914" stroke="#222" stroke-width="1.49"/>
<line x1="43" y1="932.4" x2="96" y2="934.5" stroke="#222" stroke-width="1.49"/>
<line x1="43" y1="932.4" x2="142" y2="960.5" stroke="#222" stroke-width="1.49"/>
<text x="30" y="620.8" font-size="16.5" fill="#444" text-anchor="middle">1</text>
<text x="30.5" y="640" font-size="16.5" fill="#444" text-anchor="middle">2</text>
<text x="31.5" y="676" font-size="16.5" fill="#444" text-anchor="middle">3</text>
<text x="30.5" y="717" font-size="16.5" fill="#444" text-anchor="middle">4</text>
<text x="32.5" y="764" font-size="16.5" fill="#444" text-anchor="middle">5</text>
<text x="34" y="801" font-size="16.5" fill="#444" text-anchor="middle">6</text>
<text x="34" y="853" font-size="16.5" fill="#444" text-anchor="middle">7</text>
<text x="35" y="885" font-size="16.5" fill="#444" text-anchor="middle">8</text>
<text x="35" y="938" font-size="16.5" fill="#444" text-anchor="middle">9</text>
<line x1="276" y1="610.9" x2="354.5" y2="609.5" stroke="#222" stroke-width="2.21"/>
<path d="M355.6 604.5 V609.5 L354.2 610.5" fill="none" stroke="#222" stroke-width="1.43"/>
<path d="M354.2 610 V683.3 L344.2 693.7 H332" fill="none" stroke="#222" stroke-width="1.56"/>
<line x1="300" y1="611" x2="300" y2="702" stroke="#222" stroke-width="1.43" stroke-dasharray="30 0.8"/>
<path d="M307 611.5 L311 615 H332" fill="none" stroke="#222" stroke-width="1.3"/>
<line x1="332" y1="615" x2="332" y2="700" stroke="#222" stroke-width="1.43"/>
<rect x="293" y="653.5" width="7" height="5" fill="#fff" stroke="#222" stroke-width="1.43" rx="1.5"/>
<line x1="296" y1="653.5" x2="296" y2="658.5" stroke="#222" stroke-width="1.17"/>
<path d="M238.5 702 V841" fill="none" stroke="#222" stroke-width="1.56" stroke-dasharray="6 1.2 2 1.2"/>
<line x1="342.3" y1="702" x2="342.3" y2="969" stroke="#222" stroke-width="1.43"/>
<line x1="238.5" y1="702.3" x2="342.5" y2="702.3" stroke="#222" stroke-width="1.69"/>
<line x1="240" y1="704.6" x2="341" y2="704.6" stroke="#222" stroke-width="1.17" stroke-dasharray="2 1.3"/>
<line x1="296" y1="703.2" x2="330" y2="703.2" stroke="#222" stroke-width="2.86" stroke-dasharray="3 1.5"/>
<rect x="284.5" y="694" width="8.5" height="8" fill="#fff" stroke="#222" stroke-width="1.43" rx="1.5"/>
<line x1="283" y1="699" x2="294.5" y2="699" stroke="#222" stroke-width="1.3"/>
<path d="M250.5 796 V719 Q250.5 707 264 707 H314 Q327.5 707 327.5 719 V796 Z" fill="#808080" filter="url(#fM)"/>
<path d="M250.5 796 V719 Q250.5 707 264 707 H314 Q327.5 707 327.5 719 V796 Z" fill="none" stroke="#2a2a2a" stroke-width="1.69"/>
<rect x="245.6" y="796" width="86.4" height="7" fill="#fff" stroke="#222" stroke-width="1.3"/>
<rect x="242" y="803" width="93.5" height="5" fill="#fff" stroke="#222" stroke-width="1.3"/>
<line x1="250" y1="799.5" x2="328" y2="799.5" stroke="#222" stroke-width="1.04"/>
<line x1="238.5" y1="811.3" x2="350" y2="811.3" stroke="#222" stroke-width="1.56"/>
<line x1="247" y1="809.6" x2="334" y2="809.6" stroke="#222" stroke-width="1.17" stroke-dasharray="8 2"/>
<rect x="244.5" y="812" width="9.5" height="9" fill="#fff" stroke="#222" stroke-width="1.3"/>
<line x1="247" y1="817.5" x2="251.5" y2="817.5" stroke="#222" stroke-width="1.17"/>
<rect x="272" y="812" width="10" height="9" fill="#fff" stroke="#222" stroke-width="1.3"/>
<line x1="274.5" y1="817.5" x2="279.5" y2="817.5" stroke="#222" stroke-width="1.17"/>
<rect x="294" y="812" width="10" height="9" fill="#fff" stroke="#222" stroke-width="1.3"/>
<line x1="296.5" y1="817.5" x2="301.5" y2="817.5" stroke="#222" stroke-width="1.17"/>
<rect x="321" y="812" width="11" height="9" fill="#fff" stroke="#222" stroke-width="1.3"/>
<line x1="323.5" y1="817.5" x2="329.5" y2="817.5" stroke="#222" stroke-width="1.17"/>
<rect x="280" y="814.5" width="16" height="8" fill="#fff" stroke="#222" stroke-width="1.43"/>
<rect x="282" y="816.5" width="12" height="3.5" fill="#333"/>
<path d="M280.5 822.5 V846 M296 822.5 V846" fill="none" stroke="#222" stroke-width="1.3" stroke-dasharray="5 1.5"/>
<rect x="281" y="846" width="14.5" height="16" fill="#fff" stroke="#222" stroke-width="1.43"/>
<line x1="281" y1="846.6" x2="295.5" y2="846.6" stroke="#222" stroke-width="2.86"/>
<circle cx="288" cy="855" r="3.5" fill="#fff" stroke="#222" stroke-width="1.43"/>
<path d="M281 862 L277.5 873 M295.5 862 L291 873" fill="none" stroke="#222" stroke-width="1.3"/>
<rect x="276" y="873" width="15" height="17" fill="#fff" stroke="#222" stroke-width="1.43"/>
<line x1="276" y1="873.6" x2="291" y2="873.6" stroke="#222" stroke-width="2.86"/>
<circle cx="283.3" cy="882.6" r="3.6" fill="#fff" stroke="#222" stroke-width="1.43"/>
<path d="M279 889 h9" fill="none" stroke="#222" stroke-width="2.08"/>
<path d="M276 878 Q250 880 236 890 Q225 897 224.5 903 Q226 909 240 908.5 Q262 908 272 900 Q282 893 288 890" fill="none" stroke="#222" stroke-width="1.56"/>
<path d="M260.56 898.73 L256.82 899.29 L255.42 902.47 L252.35 900.48 L248.87 901.84 L248.26 898.46 L244.74 897.19 L246.95 894.41 L245.44 891.27 L249.18 890.71 L250.58 887.53 L253.65 889.52 L257.13 888.16 L257.74 891.54 L261.26 892.81 L259.05 895.59 Z" fill="#fff" stroke="#1a1a1a" stroke-width="1.95"/>
<path d="M248.5 892 l7 6 M250.5 890 l7 6 M247.5 894.5 l6 5 M252.5 889 l6 5" fill="none" stroke="#222" stroke-width="1.69"/>
<circle cx="228.5" cy="901" r="2.6" fill="#fff" stroke="#222" stroke-width="1.17"/>
<path d="M238.3 838 L230.3 857 L212 925" fill="none" stroke="#222" stroke-width="4.16" stroke-dasharray="2.2 1.6"/>
<path d="M238.3 838 L230.3 857 L212 925" fill="none" stroke="#fff" stroke-width="1.56" stroke-dasharray="1.5 2.3"/>
<ellipse cx="229.5" cy="855" rx="3.6" ry="7.5" transform="rotate(17 229.5 855)" fill="#fff" stroke="#222" stroke-width="1.5"/>
<line x1="231.5" y1="850" x2="228.5" y2="860" stroke="#222" stroke-width="1.56"/>
<line x1="205" y1="931" x2="216" y2="931" stroke="#222" stroke-width="2.08"/>
<path d="M222.5 916 L224 907 Q228 903.5 232 907 L233.5 916 Z" fill="#ddd" stroke="#222" stroke-width="1.43"/>
<line x1="223" y1="911" x2="233" y2="911" stroke="#222" stroke-width="1.3"/>
<rect x="216.5" y="916" width="23" height="46.6" fill="#808080" filter="url(#fL)"/>
<rect x="216.5" y="916" width="23" height="46.6" fill="none" stroke="#333" stroke-width="1.3"/>
<rect x="209.5" y="962.6" width="37.5" height="5.9" fill="#f4f4f4" stroke="#222" stroke-width="1.3"/>
<line x1="240.5" y1="920" x2="240.5" y2="960" stroke="#222" stroke-width="1.04" stroke-dasharray="3 2"/>
</svg>
<!--/FIG2-->
</body>
</html>
